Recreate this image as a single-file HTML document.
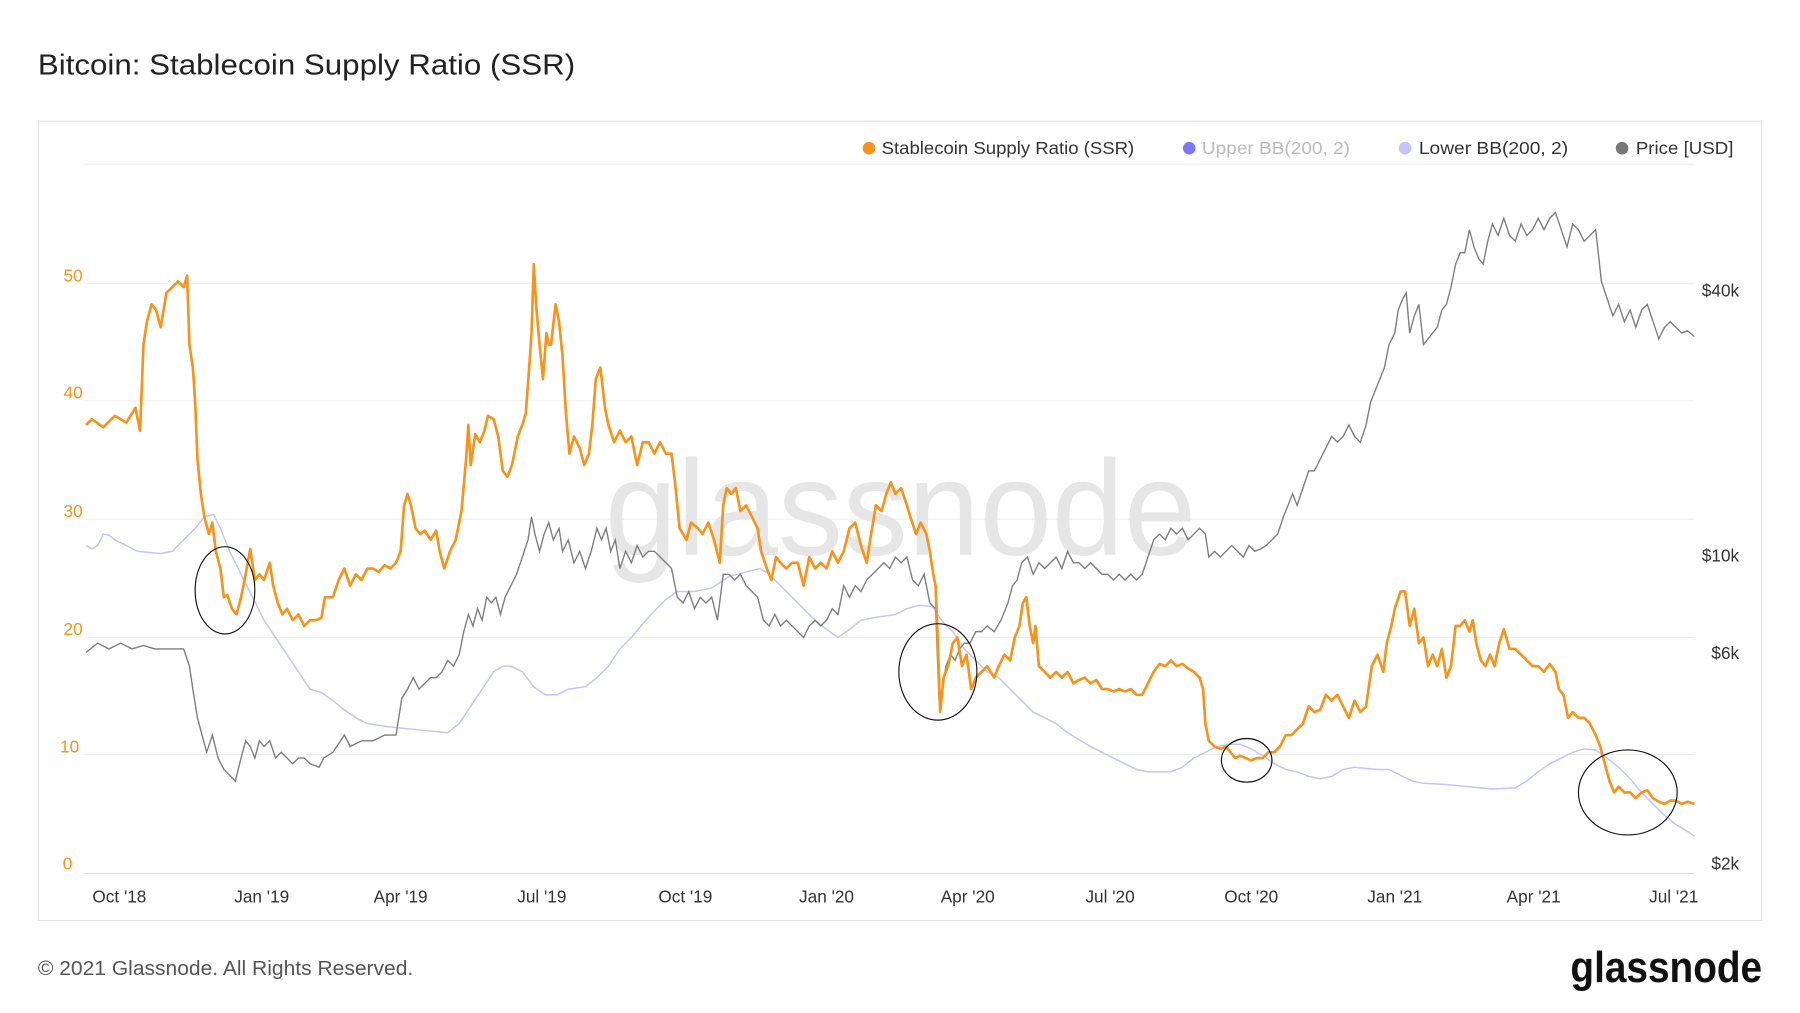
<!DOCTYPE html>
<html><head><meta charset="utf-8"><style>
html,body{margin:0;padding:0;background:#fff;}
svg{display:block;}
text{font-family:"Liberation Sans",sans-serif;}
</style></head><body>
<svg width="1800" height="1013" viewBox="0 0 1568 882" preserveAspectRatio="none">
<rect width="1568" height="882" fill="#fff"/>
<text x="33" y="65" font-size="25" fill="#222" textLength="468" lengthAdjust="spacingAndGlyphs">Bitcoin: Stablecoin Supply Ratio (SSR)</text>
<rect x="33.5" y="105.5" width="1501" height="696" fill="none" stroke="#e3e3e3"/>
<g stroke="#f0f0f0" stroke-width="1">
<line x1="73" x2="1476" y1="143" y2="143"/><line x1="73" x2="1476" y1="247" y2="247"/>
<line x1="73" x2="1476" y1="349" y2="349"/><line x1="73" x2="1476" y1="452" y2="452"/>
<line x1="73" x2="1476" y1="555" y2="555"/><line x1="73" x2="1476" y1="657" y2="657"/>
</g>
<line x1="73" x2="1476" y1="760.5" y2="760.5" stroke="#ddd"/>
<text x="527" y="483" font-size="118" fill="#e6e6e6" textLength="515" lengthAdjust="spacingAndGlyphs">glassnode</text>
<g font-size="15" fill="#f7931a" text-anchor="end">
<text x="72" y="245">50</text><text x="72" y="347">40</text><text x="72" y="450">30</text>
<text x="72" y="553">20</text><text x="69" y="655">10</text><text x="63" y="757">0</text>
</g>
<g font-size="15" fill="#333" text-anchor="end">
<text x="1515" y="258">$40k</text><text x="1515" y="489">$10k</text>
<text x="1515" y="574">$6k</text><text x="1515" y="757">$2k</text>
</g>
<g font-size="15" fill="#333" text-anchor="middle">
<text x="104" y="786">Oct '18</text><text x="228" y="786">Jan '19</text><text x="349" y="786">Apr '19</text>
<text x="472" y="786">Jul '19</text><text x="597" y="786">Oct '19</text><text x="720" y="786">Jan '20</text>
<text x="843" y="786">Apr '20</text><text x="967" y="786">Jul '20</text><text x="1090" y="786">Oct '20</text>
<text x="1215" y="786">Jan '21</text><text x="1336" y="786">Apr '21</text><text x="1458" y="786">Jul '21</text>
</g>
<g font-size="15">
<circle cx="757" cy="129" r="5.5" fill="#f7931a"/><text x="768" y="134" fill="#333" textLength="220" lengthAdjust="spacingAndGlyphs">Stablecoin Supply Ratio (SSR)</text>
<circle cx="1036" cy="129" r="5.5" fill="#7b78f5"/><text x="1047" y="134" fill="#bbb" textLength="129" lengthAdjust="spacingAndGlyphs">Upper BB(200, 2)</text>
<circle cx="1224" cy="129" r="5.5" fill="#c4c3fb"/><text x="1236" y="134" fill="#333" textLength="130" lengthAdjust="spacingAndGlyphs">Lower BB(200, 2)</text>
<circle cx="1413" cy="129" r="5.5" fill="#777"/><text x="1425" y="134" fill="#333" textLength="85" lengthAdjust="spacingAndGlyphs">Price [USD]</text>
</g>
<polyline fill="none" stroke="#c4c3fb" stroke-width="1.3" points="75,475 80,478 85,475 90,465 95,466 100,470 110,475 120,480 140,482 150,480 160,470 170,460 178,450 186,448 192,460 200,480 210,500 220,520 230,540 240,555 250,570 260,585 270,600 280,603 290,610 300,618 310,625 320,630 340,633 360,635 390,638 400,630 410,615 420,600 430,585 438,580 445,580 455,585 465,598 475,605 485,605 495,600 510,598 520,590 530,580 540,565 550,555 560,543 570,532 580,522 590,515 605,515 620,512 635,502 650,498 662,495 670,500 680,510 690,520 700,530 710,540 720,548 730,555 740,548 750,540 760,538 780,535 790,530 800,527 812,528 820,540 830,550 840,565 850,575 860,585 870,590 880,600 890,610 900,620 910,625 920,630 930,638 950,650 970,660 990,670 1000,672 1020,672 1030,668 1040,660 1050,655 1060,650 1070,648 1080,648 1090,652 1100,658 1110,665 1120,670 1130,672 1140,676 1150,678 1160,676 1170,670 1180,668 1200,670 1210,670 1220,675 1230,680 1240,682 1260,683 1280,685 1300,687 1320,686 1330,680 1340,672 1350,665 1360,660 1370,655 1380,652 1390,653 1400,660 1410,668 1420,678 1430,690 1440,700 1450,710 1460,718 1470,724 1476,728"/>
<polyline fill="none" stroke="#7d7d7d" stroke-width="1.2" points="75,568 85,560 95,565 105,560 115,565 125,562 135,565 145,565 160,565 165,580 168,600 172,625 176,640 180,655 185,640 190,660 195,670 200,675 205,680 210,660 214,645 218,650 222,660 226,645 230,650 235,645 240,660 245,655 250,660 255,665 260,660 265,660 270,665 278,668 282,660 290,655 300,640 305,650 315,645 325,645 335,640 345,640 350,608 355,600 360,590 365,600 370,595 375,590 380,590 385,585 390,575 395,580 400,570 404,550 408,535 412,545 416,530 420,540 424,520 428,525 432,520 436,535 440,520 445,510 450,500 455,485 460,470 463,450 466,465 470,480 474,465 478,455 482,470 487,460 490,480 495,470 500,490 505,480 510,495 515,480 520,460 524,470 528,460 532,480 536,470 540,495 545,480 550,490 555,475 560,485 565,480 570,480 575,485 580,490 585,495 590,520 595,525 600,515 605,530 610,520 615,525 620,520 625,540 630,500 635,500 640,505 645,500 650,510 655,515 660,520 665,540 670,545 675,535 680,545 685,540 690,545 695,550 700,555 705,545 710,540 715,545 720,540 725,530 730,535 735,510 740,520 745,510 750,515 755,505 760,500 765,495 770,490 775,495 780,485 785,490 790,485 795,505 800,510 805,500 810,525 815,530 818,610 821,600 824,580 828,570 832,575 836,565 840,560 845,560 850,550 855,550 860,545 866,550 872,540 878,525 882,510 886,505 890,490 895,485 900,500 905,490 910,495 915,490 920,485 925,495 930,480 935,490 940,490 945,495 950,490 955,495 960,500 965,500 970,505 975,500 980,505 985,500 990,505 995,500 1000,485 1005,470 1010,465 1015,470 1020,460 1025,465 1030,460 1035,470 1040,465 1045,460 1050,465 1053,485 1058,480 1063,485 1068,480 1073,475 1078,480 1083,485 1088,475 1093,480 1098,478 1103,475 1108,470 1113,465 1118,450 1122,440 1126,430 1130,440 1135,425 1140,410 1145,410 1150,400 1155,390 1160,380 1165,385 1170,380 1175,370 1180,380 1185,385 1190,370 1194,350 1198,340 1202,330 1206,320 1210,300 1215,290 1218,270 1222,260 1225,255 1228,290 1232,275 1236,265 1240,300 1244,295 1248,290 1252,285 1256,270 1260,265 1264,250 1268,230 1272,220 1276,220 1280,200 1284,215 1288,225 1292,230 1296,210 1300,195 1305,205 1310,190 1315,205 1320,210 1325,195 1330,205 1335,200 1340,190 1345,200 1350,190 1355,185 1360,200 1365,215 1370,195 1375,200 1380,210 1385,205 1390,200 1395,245 1400,260 1405,275 1410,265 1415,280 1420,270 1425,285 1430,270 1435,265 1440,280 1445,295 1450,285 1455,280 1460,285 1465,290 1470,288 1476,293"/>
<polyline fill="none" stroke="#f7931a" stroke-width="2.3" stroke-linejoin="round" points="75,370 80,365 90,372 100,362 110,368 118,355 122,375 125,300 128,280 132,265 136,270 140,285 145,255 150,250 155,245 160,250 163,240 165,300 168,320 170,350 172,400 175,430 178,450 182,465 185,455 188,480 192,495 195,520 198,518 202,530 206,535 210,520 214,500 218,478 222,505 226,500 230,505 235,490 238,510 242,525 246,535 250,530 255,540 260,535 265,545 270,540 275,540 280,538 283,520 290,520 295,505 300,495 305,510 310,500 315,505 320,495 325,495 330,498 335,492 340,495 345,490 349,480 352,440 355,430 358,440 362,460 366,465 370,462 375,470 380,462 383,480 387,495 392,480 397,470 402,445 406,400 408,370 410,405 414,378 418,385 422,375 425,362 430,365 434,380 438,410 442,415 446,405 451,380 455,370 458,360 461,320 463,290 465,230 467,265 470,300 473,330 476,290 478,300 480,300 484,265 487,280 490,310 493,360 496,395 500,380 505,390 509,405 513,395 516,370 519,330 523,320 527,355 530,370 535,385 540,375 545,385 550,380 555,405 560,385 565,385 570,395 575,385 580,395 585,395 588,420 592,460 598,470 602,455 608,460 612,465 617,455 622,470 627,490 630,440 633,425 637,430 641,425 645,445 650,440 655,450 660,460 663,480 668,495 672,505 676,485 680,490 685,495 690,490 695,490 700,510 705,485 710,495 715,490 720,495 725,480 730,490 735,480 740,460 745,455 750,475 755,490 758,470 763,440 768,445 772,430 776,420 780,430 785,425 790,440 793,450 798,465 802,455 807,465 810,480 813,500 815,510 817,560 819,620 822,590 826,580 830,560 834,555 838,580 842,570 846,600 850,590 855,585 860,580 866,590 870,580 875,570 880,575 884,555 888,545 891,525 894,520 897,545 900,560 902,545 905,580 910,585 915,590 920,585 925,590 930,585 935,595 940,592 945,590 950,595 955,592 960,600 965,600 970,602 975,600 980,602 985,600 990,605 995,605 1000,595 1005,585 1010,578 1015,580 1020,575 1025,580 1030,578 1035,582 1040,585 1045,590 1048,600 1050,630 1053,645 1058,650 1063,652 1068,650 1072,655 1076,660 1080,658 1085,660 1090,662 1095,660 1100,660 1105,655 1110,655 1115,650 1120,640 1125,640 1130,635 1135,630 1140,615 1145,620 1150,618 1155,605 1160,610 1165,605 1170,615 1175,625 1180,610 1185,620 1190,615 1195,580 1200,570 1205,585 1208,560 1212,545 1215,530 1220,515 1224,515 1228,545 1232,530 1236,560 1240,555 1244,580 1248,570 1252,580 1256,565 1260,590 1264,580 1268,545 1272,545 1276,540 1280,550 1283,540 1286,560 1290,575 1294,580 1298,570 1302,580 1306,560 1310,548 1315,565 1320,565 1325,570 1330,575 1335,580 1340,580 1345,585 1350,578 1355,585 1358,600 1362,605 1366,625 1370,620 1375,625 1380,625 1385,630 1390,640 1394,650 1398,665 1402,680 1406,690 1410,685 1415,690 1420,690 1425,695 1430,690 1435,688 1440,695 1445,698 1450,700 1455,697 1460,697 1465,700 1470,698 1476,700"/>
<g fill="none" stroke="#111" stroke-width="1">
<ellipse cx="196" cy="514" rx="26" ry="38"/><ellipse cx="817" cy="585" rx="34" ry="42"/>
<ellipse cx="1086" cy="662" rx="22" ry="19"/><ellipse cx="1418" cy="690" rx="43" ry="37"/>
</g>
<text x="33" y="849" font-size="18" fill="#555" textLength="327" lengthAdjust="spacingAndGlyphs">© 2021 Glassnode. All Rights Reserved.</text>
<text x="1368" y="855" font-size="38" fill="#111" font-weight="bold" textLength="167" lengthAdjust="spacingAndGlyphs">glassnode</text>
</svg>
</body></html>
